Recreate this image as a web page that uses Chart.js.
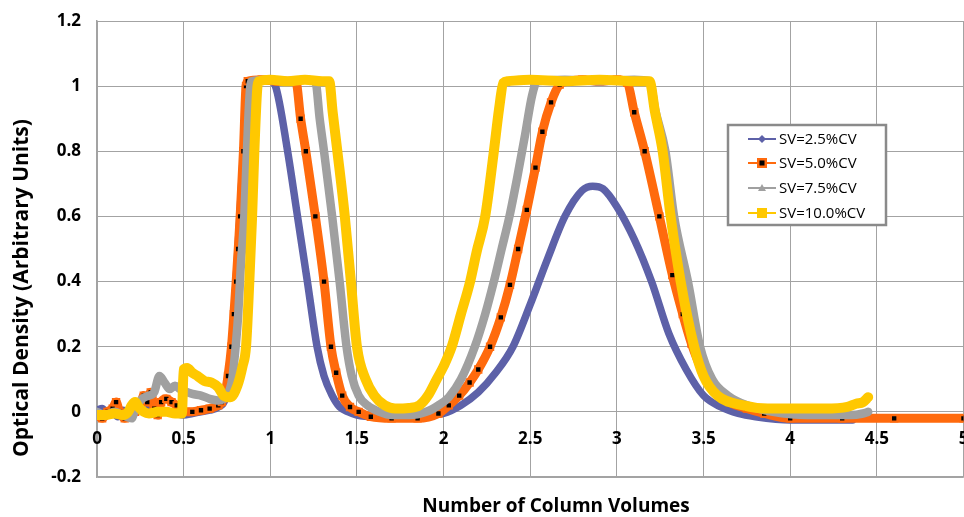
<!DOCTYPE html>
<html><head><meta charset="utf-8">
<script src="https://cdn.jsdelivr.net/npm/chart.js@4.4.1/dist/chart.umd.min.js"></script>
<style>html,body{margin:0;padding:0;overflow:hidden;background:#fff}canvas{display:block}</style>
</head><body>
<canvas id="cv" width="970" height="517"></canvas>
<script>
// axis ticks + titles
const X_TICKS = [0, 0.5, 1, 1.5, 2, 2.5, 3, 3.5, 4, 4.5, 5];
const Y_TICKS = [-0.2, 0, 0.2, 0.4, 0.6, 0.8, 1, 1.2];
const X_TITLE = 'Number of Column Volumes';
const Y_TITLE = 'Optical Density (Arbitrary Units)';
const NAMES = ['SV=2.5%CV', 'SV=5.0%CV', 'SV=7.5%CV', 'SV=10.0%CV'];

// SV=2.5%CV
const SV25_X = [0,0.03,0.06,0.09,0.12,0.15,0.18,0.21,0.24,0.27,0.3,0.33,0.36,0.4,0.45,0.5,0.55,0.6,0.65,0.7,0.74,0.76,0.78,0.8,0.82,0.84,0.86,0.88,0.92,1.0,1.03,1.1,1.157,1.214,1.27,1.31,1.357,1.4,1.45,1.5,1.6,1.8,1.9,2.0,2.1,2.2,2.3,2.4,2.5,2.6,2.7,2.8,2.86,2.92,3.0,3.1,3.2,3.3,3.4,3.5,3.6,3.7,3.8,4.0,4.2,4.36];
const SV25_Y = [0.005,0.01,-0.005,0,-0.015,0.005,0,-0.01,0.015,0,0.01,-0.005,0.005,0,-0.005,-0.01,-0.005,0,0.005,0.015,0.04,0.1,0.2,0.38,0.56,0.75,0.92,1.0,1.015,1.015,1.0,0.8,0.6,0.4,0.2,0.11,0.05,0.015,0,-0.01,-0.015,-0.015,-0.01,-0.005,0.02,0.06,0.12,0.2,0.33,0.47,0.6,0.68,0.693,0.685,0.63,0.53,0.4,0.24,0.13,0.05,0.015,-0.005,-0.015,-0.025,-0.025,-0.025];

// SV=5.0%CV
const SV50_X = [0,0.03,0.06,0.09,0.11,0.13,0.16,0.19,0.22,0.25,0.27,0.29,0.31,0.33,0.35,0.37,0.4,0.43,0.46,0.5,0.55,0.6,0.65,0.7,0.72,0.736,0.756,0.776,0.79,0.803,0.815,0.826,0.845,0.86,0.87,0.95,1.05,1.147,1.175,1.205,1.26,1.31,1.35,1.38,1.415,1.46,1.51,1.58,1.7,1.85,1.97,2.03,2.09,2.15,2.2,2.268,2.33,2.383,2.43,2.48,2.53,2.57,2.62,2.67,2.72,2.8,2.9,3.0,3.06,3.1,3.16,3.245,3.32,3.38,3.43,3.49,3.56,3.65,3.75,3.85,4.0,4.3,4.6,5.0];
const SV50_Y = [-0.01,-0.02,0,0.01,0.03,0,-0.02,-0.01,0,0.02,0.05,0.03,0.06,0.01,-0.01,0.03,0.04,0.03,0.02,0,0,0.005,0.01,0.02,0.03,0.05,0.11,0.2,0.3,0.4,0.5,0.6,0.8,1.0,1.015,1.02,1.015,1.015,0.9,0.8,0.6,0.4,0.2,0.12,0.05,0.015,0,-0.015,-0.02,-0.02,-0.005,0.02,0.05,0.09,0.13,0.2,0.29,0.39,0.5,0.62,0.75,0.86,0.95,1.005,1.015,1.02,1.015,1.02,1.01,0.92,0.8,0.6,0.42,0.3,0.21,0.13,0.07,0.03,0.01,-0.005,-0.02,-0.02,-0.02,-0.02];

// SV=7.5%CV
const SV75_X = [0,0.05,0.1,0.15,0.2,0.22,0.26,0.3,0.33,0.36,0.39,0.42,0.45,0.48,0.5,0.55,0.6,0.65,0.7,0.75,0.78,0.8,0.815,0.83,0.85,0.865,0.88,0.89,1.0,1.1,1.2,1.26,1.285,1.31,1.357,1.4,1.44,1.47,1.51,1.56,1.63,1.7,1.8,1.9,1.97,2.03,2.1,2.18,2.24,2.29,2.335,2.38,2.425,2.47,2.51,2.54,2.7,2.9,3.1,3.19,3.22,3.28,3.33,3.41,3.48,3.55,3.64,3.75,3.9,4.1,4.35,4.42,4.45];
const SV75_Y = [0,-0.01,0,-0.01,-0.02,0.01,0.04,0.05,0.06,0.11,0.09,0.07,0.08,0.07,0.065,0.055,0.05,0.04,0.035,0.05,0.1,0.2,0.3,0.45,0.6,0.8,0.97,1.015,1.02,1.015,1.02,1.015,0.9,0.8,0.6,0.4,0.2,0.11,0.05,0.02,0,-0.01,-0.01,0,0.02,0.045,0.1,0.2,0.3,0.4,0.5,0.6,0.72,0.85,0.97,1.015,1.02,1.015,1.02,1.015,0.93,0.8,0.6,0.4,0.2,0.1,0.05,0.02,0,-0.01,-0.01,-0.005,0];

// SV=10.0%CV
const SV100_X = [0,0.05,0.1,0.15,0.18,0.2,0.22,0.24,0.27,0.3,0.35,0.4,0.45,0.49,0.5,0.52,0.55,0.58,0.62,0.66,0.7,0.73,0.77,0.81,0.84,0.86,0.879,0.895,0.908,0.926,0.935,1.0,1.1,1.2,1.3,1.34,1.36,1.387,1.43,1.465,1.5,1.55,1.6,1.66,1.72,1.8,1.86,1.91,1.96,2.0,2.047,2.1,2.153,2.19,2.24,2.29,2.32,2.345,2.37,2.5,2.7,2.9,3.1,3.188,3.22,3.264,3.31,3.368,3.446,3.5,3.58,3.73,3.87,4.0,4.2,4.33,4.38,4.42,4.45];
const SV100_Y = [-0.01,-0.01,-0.005,-0.01,0,0.02,0.03,0.015,0,-0.005,0,0,-0.005,-0.005,0.13,0.135,0.12,0.11,0.095,0.09,0.075,0.05,0.045,0.08,0.14,0.2,0.4,0.6,0.8,1.0,1.015,1.02,1.015,1.02,1.015,1.015,0.92,0.8,0.6,0.4,0.2,0.1,0.05,0.02,0.01,0.012,0.02,0.05,0.1,0.14,0.2,0.3,0.4,0.49,0.6,0.8,0.93,1.01,1.015,1.02,1.015,1.02,1.015,1.015,0.92,0.8,0.6,0.4,0.2,0.11,0.05,0.02,0.01,0.01,0.01,0.015,0.025,0.03,0.045];

const FONT = '"Open Sans", sans-serif';
const pts = (xs, ys) => xs.map((x, i) => ({x, y: ys[i]}));

const overlay = {
  id: 'overlay',
  afterDraw(chart) {
    const {ctx, scales: {x, y}} = chart;
    ctx.save();
    ctx.fillStyle = '#000';
    ctx.textAlign = 'center'; ctx.textBaseline = 'middle';
    // x tick labels sit just under the zero line
    ctx.font = `bold 17px ${FONT}`;
    const y0 = y.getPixelForValue(0);
    X_TICKS.forEach(v => ctx.fillText(String(v), x.getPixelForValue(v), y0 + 27));
    ctx.font = `bold 19px ${FONT}`;
    ctx.fillText(X_TITLE, 556, 507);
    ctx.font = `bold 21px ${FONT}`;
    ctx.save(); ctx.translate(22, 288); ctx.rotate(-Math.PI / 2); ctx.fillText(Y_TITLE, 0, 0); ctx.restore();

    // legend box
    ctx.fillStyle = '#fff'; ctx.fillRect(728, 125, 158, 100);
    ctx.strokeStyle = '#8a8a8a'; ctx.lineWidth = 2.5; ctx.strokeRect(728, 125, 158, 100);
    ctx.font = `15px ${FONT}`; ctx.textAlign = 'left';
    chart.data.datasets.forEach((ds, i) => {
      const ly = [139, 163, 188, 213][i];
      ctx.strokeStyle = ds.borderColor; ctx.lineWidth = 2;
      ctx.beginPath(); ctx.moveTo(748, ly); ctx.lineTo(776, ly); ctx.stroke();
      ctx.fillStyle = ds.borderColor;
      ctx.beginPath();
      if (i === 0) { ctx.moveTo(762, ly - 4); ctx.lineTo(766, ly); ctx.lineTo(762, ly + 4); ctx.lineTo(758, ly); ctx.closePath(); ctx.fill(); }
      else if (i === 1) { ctx.fillRect(757, ly - 5, 10, 10); ctx.fillStyle = '#000'; ctx.fillRect(759.5, ly - 2.5, 5, 5); }
      else if (i === 2) { ctx.moveTo(762, ly - 4); ctx.lineTo(766, ly + 3); ctx.lineTo(758, ly + 3); ctx.closePath(); ctx.fill(); }
      else { ctx.fillRect(757, ly - 5, 10, 10); }
      ctx.fillStyle = '#000';
      ctx.fillText(NAMES[i], 779, ly + 1);
    });
    ctx.restore();
  }
};

const GRID = '#a3a3a3';
new Chart(document.getElementById('cv'), {
  type: 'scatter',
  data: {
    datasets: [
      {data: pts(SV25_X, SV25_Y), borderColor: '#5d61a8', borderWidth: 7.5, pointRadius: 0, order: 3},
      {data: pts(SV50_X, SV50_Y), borderColor: '#ff6a0d', borderWidth: 9, pointRadius: 4.5, pointStyle: 'rect',
        pointBackgroundColor: '#000', pointBorderColor: '#ff6a0d', pointBorderWidth: 2, order: 2},
      {data: pts(SV75_X, SV75_Y), borderColor: '#a0a0a0', borderWidth: 8.5, pointRadius: 0, order: 1},
      {data: pts(SV100_X, SV100_Y), borderColor: '#ffc800', borderWidth: 10, pointRadius: 0, order: 0},
    ].map(d => Object.assign({showLine: true, fill: false, cubicInterpolationMode: 'monotone',
      borderJoinStyle: 'round', borderCapStyle: 'round'}, d))
  },
  options: {
    responsive: false, animation: false,
    layout: {padding: {top: 21, right: 3, left: 0, bottom: 0}},
    plugins: {legend: {display: false}, tooltip: {enabled: false}},
    scales: {
      x: {type: 'linear', min: 0, max: 5,
        afterBuildTicks: s => { s.ticks = X_TICKS.map(v => ({value: v})); },
        afterFit: s => { s.height = 40; },
        ticks: {display: false},
        grid: {color: GRID, lineWidth: 1, drawTicks: false},
        border: {color: GRID, width: 1.5}},
      y: {min: -0.2, max: 1.2,
        afterBuildTicks: s => { s.ticks = Y_TICKS.map(v => ({value: v})); },
        afterFit: s => { s.width = 97; s.paddingTop = 0; s.paddingBottom = 0; },
        ticks: {color: '#000', padding: 16, font: {family: FONT, size: 17, weight: 'bold'},
          callback: v => String(+v.toFixed(1))},
        grid: {color: GRID, lineWidth: 1, drawTicks: false},
        border: {color: GRID, width: 1.5}}
    }
  },
  plugins: [overlay]
});
</script>
</body></html>
